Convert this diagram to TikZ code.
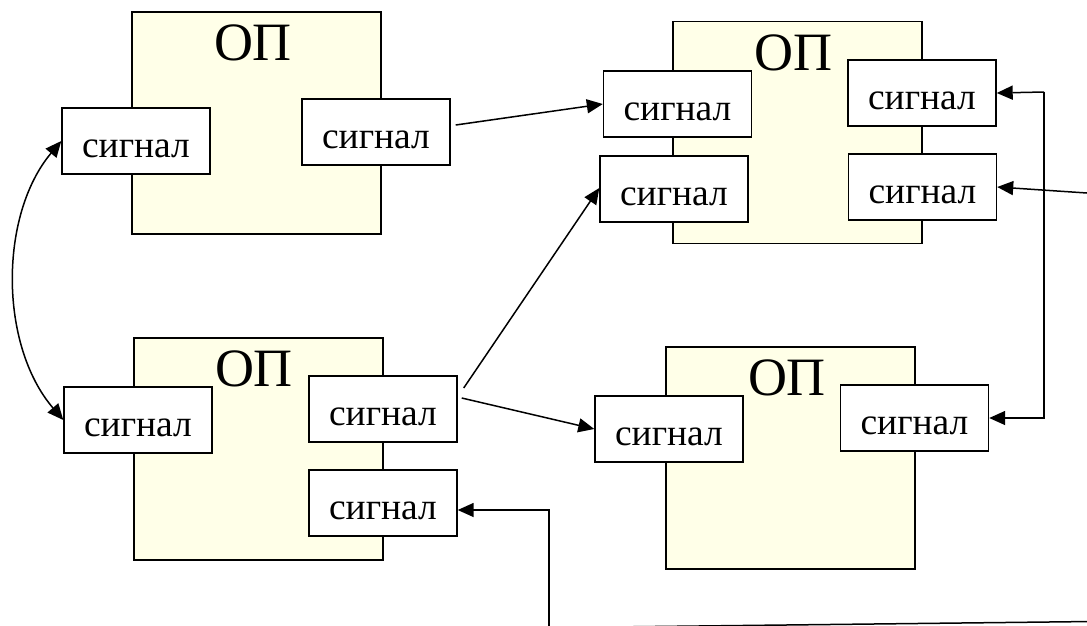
\documentclass[tikz,border=0pt]{standalone}
\usepackage{fontspec}
\setmainfont{Liberation Serif}
\usetikzlibrary{arrows.meta,calc}
\definecolor{opfill}{RGB}{255,255,232}
\tikzset{
  opbox/.style={draw=black, line width=1.4pt, fill=opfill, minimum width=249pt, minimum height=222pt, inner sep=0pt},
  optitle/.style={anchor=base, font=\fontsize{54}{54}\selectfont, inner sep=0pt},
  sigbox/.style={draw=black, line width=1.4pt, fill=white, minimum width=148pt, minimum height=66pt, inner sep=0pt,
    text height=32pt, text depth=0pt, font=\fontsize{37.5}{37.5}\selectfont},
  tip/.style={Triangle[length=16pt,width=14pt]},
  link/.style={line width=1.5pt, -{Triangle[length=16pt,width=14pt]}},
  biglink/.style={line width=1.5pt, {Triangle[length=16pt,width=14pt]}-{Triangle[length=16pt,width=14pt]}},
  plain/.style={line width=1.5pt}
}
\begin{document}
\begin{tikzpicture}[x=1pt,y=-1pt]
\useasboundingbox (0,0) rectangle (1087,625);
\clip (0,0) rectangle (1087,625);

% operation blocks
\node[opbox] (A) at (256.5,123) {};
\node[opbox] (B) at (797.5,132.5) {};
\node[opbox] (C) at (258.5,449) {};
\node[opbox] (D) at (790.5,458) {};
\node[optitle] (tA) at (253,60) {ОП};
\node[optitle] (tB) at (793,70) {ОП};
\node[optitle] (tC) at (254,386) {ОП};
\node[optitle] (tD) at (787,395) {ОП};

% signal ports
\node[sigbox] (al)  at (136,141)   {сигнал};
\node[sigbox] (ar)  at (376,132)   {сигнал};
\node[sigbox] (bl1) at (677.5,104) {сигнал};
\node[sigbox] (bl2) at (674,189)   {сигнал};
\node[sigbox] (br1) at (922,93)    {сигнал};
\node[sigbox] (br2) at (922.5,187) {сигнал};
\node[sigbox] (cl)  at (138,420)   {сигнал};
\node[sigbox] (cr1) at (383,409)   {сигнал};
\node[sigbox] (cr2) at (383,503)   {сигнал};
\node[sigbox] (dl)  at (669,429)   {сигнал};
\node[sigbox] (dr)  at (914.5,418) {сигнал};

% turning points of the outer loop
\coordinate (rt) at (1044,92);
\coordinate (rb) at (1044,418);
\coordinate (edgeR) at (1087,193);
\coordinate (bt) at (549,510);
\coordinate (bb) at (549,627.7);
\coordinate (bfar) at (1092,621.5);

% connectors
\draw[biglink] (al.west) .. controls (-1,215) and (-1,345) .. (cl.west);
\draw[link] ($(ar.east)+(5,-7)$) -- (bl1.west);
\draw[link] ($(cr1.east)+(6,-21)$) -- ($(bl2.west)+(0,-1)$);
\draw[link] ($(cr1.east)+(4,-11)$) -- (dl.west);
\draw[link] (rt) -- (br1.east);
\draw[link] (rt) -- (rb) -- (dr.east);
\draw[link] (edgeR) -- (br2.east);
\draw[link] (bb) -- (bt) -- (cr2.east |- bt);
\draw[plain] (bb) -- (bfar);
\end{tikzpicture}
\end{document}
